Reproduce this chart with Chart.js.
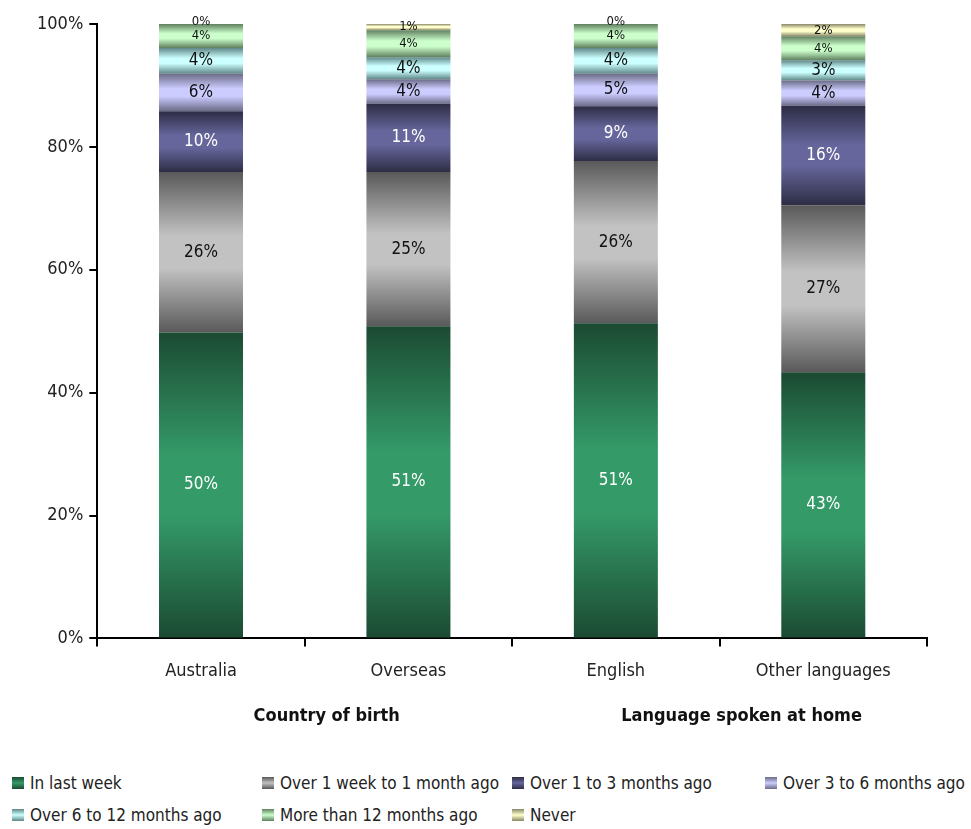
<!DOCTYPE html>
<html>
<head>
<meta charset="utf-8">
<script src="https://cdn.jsdelivr.net/npm/chart.js@4"></script>
<style>
  html, body { margin: 0; padding: 0; background: #fff; }
  #wrap { position: relative; width: 971px; height: 829px; overflow: hidden; }
  #c { position: absolute; left: 0; top: 0; }
  .legend { position: absolute; left: 0; top: 771px; width: 971px; font-family: "DejaVu Sans Condensed", "DejaVu Sans", sans-serif; font-stretch: condensed; font-size: 17px; color: #222; }
  .item { position: absolute; display: flex; align-items: center; white-space: nowrap; height: 24px; }
  .sw { width: 12px; height: 12px; margin-right: 6px; }
</style>
</head>
<body>
<div id="wrap">
  <canvas id="c" width="971" height="760"></canvas>
  <div class="legend" id="legend"></div>
</div>
<script>
const categories = ["Australia", "Overseas", "English", "Other languages"];
const groupLabels = ["Country of birth", "Language spoken at home"];
const seriesNames = ["In last week", "Over 1 week to 1 month ago", "Over 1 to 3 months ago", "Over 3 to 6 months ago", "Over 6 to 12 months ago", "More than 12 months ago", "Never"];
const inLastWeek      = [49.8, 50.8, 51.3, 43.3];
const over1WeekTo1Mo  = [26.1, 25.1, 26.4, 27.2];
const over1To3Mo      = [9.9, 11.1, 8.9, 16.2];
const over3To6Mo      = [6.1, 4.0, 5.3, 4.1];
const over6To12Mo     = [4.2, 3.6, 4.2, 3.3];
const moreThan12Mo    = [3.9, 4.4, 3.9, 3.9];
const never           = [0.0, 1.0, 0.0, 2.0];
const yTicks = [0, 20, 40, 60, 80, 100];

const seriesValues = [inLastWeek, over1WeekTo1Mo, over1To3Mo, over3To6Mo, over6To12Mo, moreThan12Mo, never];
const darkCols  = ["#1b4a32", "#595959", "#2d2d45", "#6b6b88", "#5f8787", "#5f805f", "#888868"];
const lightCols = ["#349a68", "#c2c2c2", "#66669c", "#ccccff", "#ccffff", "#ccffcc", "#ffffcc"];
const labelCols = ["#ffffff", "#111111", "#ffffff", "#111111", "#111111", "#111111", "#111111"];
const labelSizes = [17, 17, 17, 17, 17, 13, 13];
const FONT = '"DejaVu Sans Condensed", "DejaVu Sans", sans-serif';

function segBg(ctx) {
  const chart = ctx.chart;
  const di = ctx.datasetIndex, i = ctx.dataIndex;
  if (!chart.chartArea || !chart.scales.y || i === undefined) return lightCols[di];
  let start = 0;
  for (let k = 0; k < di; k++) start += seriesValues[k][i];
  const end = start + seriesValues[di][i];
  const y0 = chart.scales.y.getPixelForValue(end);
  const y1 = chart.scales.y.getPixelForValue(start);
  if (!isFinite(y0) || !isFinite(y1) || Math.abs(y1 - y0) < 0.5) return lightCols[di];
  const g = chart.ctx.createLinearGradient(0, y0, 0, y1);
  g.addColorStop(0, darkCols[di]);
  g.addColorStop(0.4, lightCols[di]);
  g.addColorStop(0.6, lightCols[di]);
  g.addColorStop(1, darkCols[di]);
  return g;
}

const labelPlugin = {
  id: 'segLabels',
  afterDatasetsDraw(chart) {
    const c = chart.ctx;
    c.save();
    c.textAlign = 'center';
    c.textBaseline = 'middle';
    chart.data.datasets.forEach((ds, di) => {
      const meta = chart.getDatasetMeta(di);
      meta.data.forEach((bar, i) => {
        const v = ds.data[i];
        const p = bar.getProps(['x', 'y', 'base'], true);
        let y = (p.y + p.base) / 2;
        if (Math.abs(p.base - p.y) < 1) y -= 2;
        c.font = labelSizes[di] + 'px ' + FONT;
        c.fillStyle = labelCols[di];
        c.fillText(Math.round(v) + '%', p.x, y);
      });
    });
    c.restore();
  }
};

const groupPlugin = {
  id: 'groupLabels',
  afterDraw(chart) {
    const x = chart.scales.x;
    const c = chart.ctx;
    c.save();
    c.font = 'bold 18px ' + FONT;
    c.fillStyle = '#111';
    c.textAlign = 'center';
    c.textBaseline = 'middle';
    for (let g = 0; g < groupLabels.length; g++) {
      const cx = (x.getPixelForValue(2 * g) + x.getPixelForValue(2 * g + 1)) / 2 + 22;
      c.fillText(groupLabels[g], cx, chart.chartArea.bottom + 78);
    }
    c.restore();
  }
};

const datasets = seriesNames.map((name, di) => ({
  label: name,
  data: seriesValues[di],
  backgroundColor: segBg,
  borderWidth: 0,
  barPercentage: 0.405,
  categoryPercentage: 1.0
}));

new Chart(document.getElementById('c'), {
  type: 'bar',
  data: { labels: categories, datasets },
  options: {
    responsive: false,
    animation: false,
    layout: { padding: { left: 31, right: 44, top: 24, bottom: 64 } },
    plugins: { legend: { display: false }, tooltip: { enabled: false } },
    scales: {
      x: {
        stacked: true,
        border: { display: true, color: '#000', width: 2 },
        grid: { display: true, drawOnChartArea: false, drawTicks: true, tickLength: 8, color: '#000', lineWidth: 2, offset: true },
        ticks: { color: '#222', font: { family: FONT, size: 18 }, padding: 14 }
      },
      y: {
        stacked: true,
        min: 0, max: 100,
        afterBuildTicks(axis) { axis.ticks = yTicks.map(v => ({ value: v })); },
        border: { display: true, color: '#000', width: 2 },
        grid: { display: true, drawOnChartArea: false, drawTicks: true, tickLength: 8, color: '#000', lineWidth: 2 },
        ticks: { color: '#222', font: { family: FONT, size: 18 }, padding: 6, callback: v => v + '%' }
      }
    }
  },
  plugins: [labelPlugin, groupPlugin]
});

// HTML legend
const legendPos = [[12, 0], [262, 0], [512, 0], [765, 0], [12, 32], [262, 32], [512, 32]];
const leg = document.getElementById('legend');
seriesNames.forEach((name, di) => {
  const d = document.createElement('div');
  d.className = 'item';
  d.style.left = legendPos[di][0] + 'px';
  d.style.top = legendPos[di][1] + 'px';
  const sw = document.createElement('span');
  sw.className = 'sw';
  sw.style.background = 'linear-gradient(' + darkCols[di] + ',' + lightCols[di] + ' 50%,' + darkCols[di] + ')';
  const t = document.createElement('span');
  t.textContent = name;
  d.appendChild(sw); d.appendChild(t);
  leg.appendChild(d);
});
</script>
</body>
</html>
